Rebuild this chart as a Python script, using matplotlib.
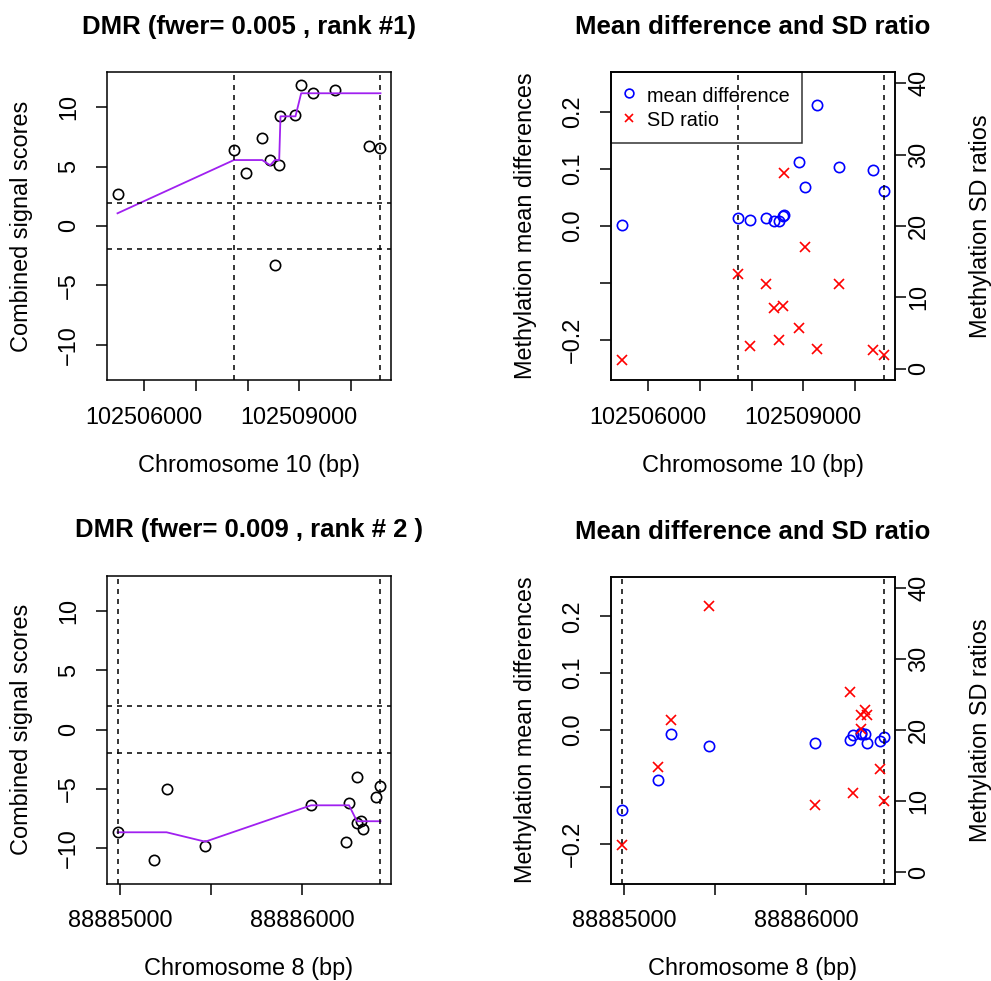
import matplotlib
matplotlib.use('Agg')
import matplotlib.pyplot as plt
from matplotlib.lines import Line2D

plt.rcParams['font.family'] = ['Liberation Sans', 'DejaVu Sans']
plt.rcParams['lines.scale_dashes'] = False

# ---------------- data ----------------
# DMR rank 1, chromosome 10
pos1 = [102505484, 102507735, 102507973, 102508282, 102508437, 102508528, 102508611,
        102508636, 102508926, 102509036, 102509268, 102509694, 102510352, 102510570]
score1 = [2.69, 6.37, 4.43, 7.38, 5.59, -3.25, 5.11, 9.23, 9.34, 11.9, 11.17, 11.42, 6.77, 6.54]
smooth1 = [1.07, 5.55, 5.55, 5.55, 5.11, 5.55, 5.55, 9.23, 9.23, 11.17, 11.17, 11.17, 11.17, 11.17]
meandiff1 = [0.001, 0.0135, 0.011, 0.014, 0.0095, 0.008, 0.018, 0.019, 0.113, 0.068, 0.213,
             0.103, 0.099, 0.061]
sdratio1 = [1.18, 13.2, 3.22, 11.9, 8.47, 3.98, 8.83, 27.5, 5.7, 17.0, 2.72, 11.87, 2.66, 1.96]
bounds1 = [pos1[1], pos1[-1]]
xticks1 = [102506000, 102507000, 102508000, 102509000, 102510000]
xticklabels1 = ['102506000', '', '', '102509000', '']
title1 = 'DMR (fwer= 0.005 , rank #1)'
xlab1 = 'Chromosome 10 (bp)'

# DMR rank 2, chromosome 8
pos2 = [88884985, 88885185, 88885255, 88885468, 88886051, 88886242, 88886260, 88886301,
        88886306, 88886323, 88886337, 88886411, 88886433]
score2 = [-8.65, -11.0, -5.03, -9.83, -6.38, -9.44, -6.21, -4.02, -7.84, -7.67, -8.37, -5.67, -4.72]
smooth2 = [-8.65, -8.65, -8.65, -9.44, -6.38, -6.38, -6.38, -7.65, -7.72, -7.72, -7.72, -7.72, -7.72]
meandiff2 = [-0.14, -0.088, -0.0075, -0.0275, -0.022, -0.0175, -0.0093, -0.0053, -0.007, -0.007,
             -0.022, -0.0187, -0.0117]
sdratio2 = [3.88, 14.8, 21.4, 37.5, 9.49, 25.4, 11.1, 20.1, 22.05, 22.75, 22.15, 14.5, 9.95]
bounds2 = [pos2[0], pos2[-1]]
xticks2 = [88885000, 88885500, 88886000]
xticklabels2 = ['88885000', '', '88886000']
title2 = 'DMR (fwer= 0.009 , rank # 2 )'
xlab2 = 'Chromosome 8 (bp)'

thresh = [-1.96, 1.96]
score_ticks = [-10, -5, 0, 5, 10]
score_ticklabels = ['\u221210', '\u22125', '0', '5', '10']
md_ticks = [-0.2, -0.1, 0.0, 0.1, 0.2]
md_ticklabels = ['\u22120.2', '', '0.0', '0.1', '0.2']
sd_ticks = [0, 10, 20, 30, 40]
sd_ticklabels = ['0', '10', '20', '30', '40']
title_md = 'Mean difference and SD ratio'
ylab_score = 'Combined signal scores'
ylab_md = 'Methylation mean differences'
ylab_sd = 'Methylation SD ratios'
legend_labels = ['mean difference', 'SD ratio']

# ---------------- layout ----------------
W, H = 991, 981
fig = plt.figure(figsize=(W / 100, H / 100), dpi=100)


def rect(l, t, r, b):
    return [l / W, 1 - b / H, (r - l) / W, (b - t) / H]


FS = 16.9
TFS = 18.5
LW = 1.1
MEW = 1.2
DASH = (0, (3.6, 3.6))
PURPLE = '#A020F0'
AXW, AXH = 284.0, 308.0


def xlim_of(p):
    lo, hi = min(p), max(p)
    d = (hi - lo) * 0.04
    return lo - d, hi + d


def style_axes(ax, xticks, xticklabels, yticks, yticklabels, xlab, ylab, title):
    for s in ax.spines.values():
        s.set_linewidth(LW)
    ax.set_xticks(xticks)
    ax.set_xticklabels(xticklabels)
    ax.set_yticks(yticks)
    ax.set_yticklabels(yticklabels)
    ax.tick_params(axis='both', direction='out', length=7.9, width=LW, labelsize=FS)
    ax.tick_params(axis='x', pad=10.8)
    ax.tick_params(axis='y', pad=11.5, labelrotation=90)
    for lab in ax.get_yticklabels():
        lab.set_verticalalignment('center')
    ax.set_xlabel(xlab, fontsize=FS)
    ax.xaxis.set_label_coords(0.5, -91.7 / AXH)
    ax.xaxis.label.set_verticalalignment('baseline')
    ax.set_ylabel(ylab, fontsize=FS)
    ax.yaxis.set_label_coords(-79.0 / AXW, 0.5)
    ax.yaxis.label.set_verticalalignment('baseline')
    ax.set_title(title, fontsize=TFS, fontweight='bold', y=1 + 38.0 / AXH, pad=0,
                 va='baseline')


def score_panel(ax, pos, score, smooth, bounds, xticks, xticklabels, title, xlab):
    ax.plot(pos, score, linestyle='none', marker='o', markersize=7.4, markerfacecolor='none',
            markeredgecolor='black', markeredgewidth=MEW)
    ax.plot(pos, smooth, color=PURPLE, linewidth=1.3)
    for b in bounds:
        ax.axvline(b, color='black', linewidth=LW, linestyle=DASH)
    for t in thresh:
        ax.axhline(t, color='black', linewidth=LW, linestyle=DASH)
    ax.set_xlim(*xlim_of(pos))
    ax.set_ylim(-12.96, 12.96)
    style_axes(ax, xticks, xticklabels, score_ticks, score_ticklabels, xlab, ylab_score, title)


def md_panel(ax, pos, md, sd, bounds, xticks, xticklabels, xlab, legend=False):
    ax.plot(pos, md, linestyle='none', marker='o', markersize=7.4, markerfacecolor='none',
            markeredgecolor='blue', markeredgewidth=MEW)
    for b in bounds:
        ax.axvline(b, color='black', linewidth=LW, linestyle=DASH)
    ax.set_xlim(*xlim_of(pos))
    ax.set_ylim(-0.27, 0.27)
    style_axes(ax, xticks, xticklabels, md_ticks, md_ticklabels, xlab, ylab_md, title_md)
    tw = ax.twinx()
    tw.plot(pos, sd, linestyle='none', marker='x', markersize=6.8, color='red',
            markeredgewidth=MEW)
    tw.set_ylim(-1.6, 41.6)
    tw.set_xlim(*xlim_of(pos))
    for s in tw.spines.values():
        s.set_linewidth(LW)
    tw.set_yticks(sd_ticks)
    tw.set_yticklabels(sd_ticklabels)
    tw.tick_params(axis='y', direction='out', length=7.9, width=LW, labelsize=FS,
                   pad=1.0, labelrotation=90)
    for lab in tw.get_yticklabels():
        lab.set_verticalalignment('center')
    tw.set_ylabel(ylab_sd, fontsize=FS)
    tw.yaxis.set_label_coords((987.0 - 611.0) / AXW, 0.5)
    tw.yaxis.label.set_verticalalignment('baseline')
    if legend:
        handles = [Line2D([], [], linestyle='none', marker='o', markersize=6.3,
                          markerfacecolor='none', markeredgecolor='blue', markeredgewidth=MEW),
                   Line2D([], [], linestyle='none', marker='x', markersize=5.8, color='red',
                          markeredgewidth=MEW)]
        leg = tw.legend(handles, legend_labels, loc='upper left', bbox_to_anchor=(0, 1),
                        borderaxespad=0, frameon=True, fancybox=False, edgecolor='black',
                        facecolor='none', fontsize=14.3, handlelength=0.55,
                        handleheight=1.25, handletextpad=0.6, borderpad=0.65,
                        labelspacing=0.15)
        leg.get_frame().set_linewidth(LW)
    return tw


ax1 = fig.add_axes(rect(107, 72, 391, 380))
ax2 = fig.add_axes(rect(611, 72, 895, 380))
ax3 = fig.add_axes(rect(107, 575.5, 391, 883.5))
ax4 = fig.add_axes(rect(611, 576.5, 895, 883.5))

score_panel(ax1, pos1, score1, smooth1, bounds1, xticks1, xticklabels1, title1, xlab1)
md_panel(ax2, pos1, meandiff1, sdratio1, bounds1, xticks1, xticklabels1, xlab1, legend=True)
score_panel(ax3, pos2, score2, smooth2, bounds2, xticks2, xticklabels2, title2, xlab2)
md_panel(ax4, pos2, meandiff2, sdratio2, bounds2, xticks2, xticklabels2, xlab2)

fig.savefig('out.png', dpi=100)
